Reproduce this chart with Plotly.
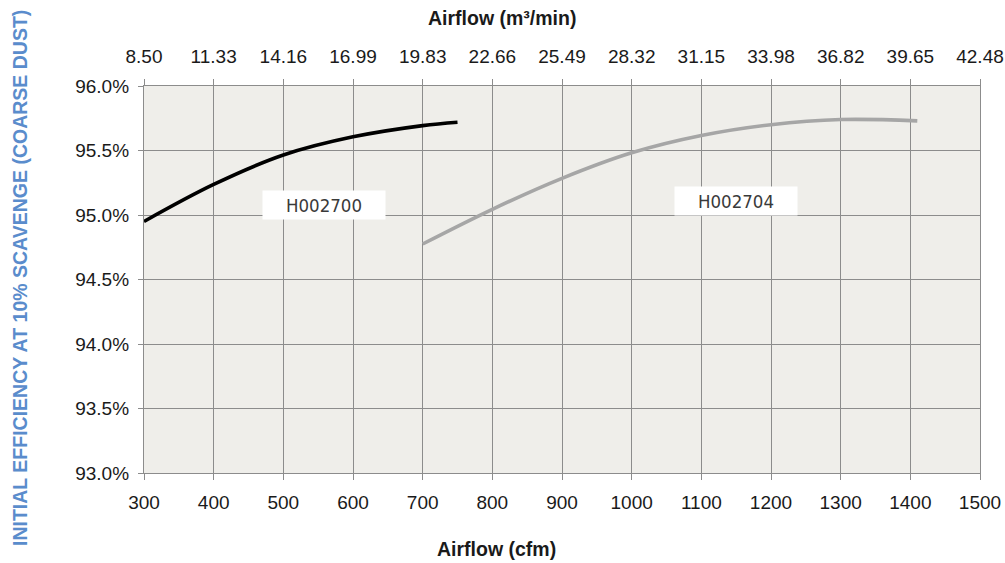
import plotly.graph_objects as go

# Data
cfm_ticks = [300, 400, 500, 600, 700, 800, 900, 1000, 1100, 1200, 1300, 1400, 1500]
m3_labels = ["8.50", "11.33", "14.16", "16.99", "19.83", "22.66", "25.49",
             "28.32", "31.15", "33.98", "36.82", "39.65", "42.48"]
eff_ticks = [93.0, 93.5, 94.0, 94.5, 95.0, 95.5, 96.0]

h2700_x = [300, 400, 500, 600, 700, 750]
h2700_y = [94.95, 95.237, 95.465, 95.606, 95.693, 95.719]

h2704_x = [700, 800, 900, 1000, 1100, 1200, 1300, 1410]
h2704_y = [94.775, 95.044, 95.284, 95.482, 95.616, 95.700, 95.740, 95.730]

labels = [("H002700", 559, 95.078), ("H002704", 1150, 95.112)]

W, H = 1005, 563
L, T = 144, 86
R = 1005 - 980
B = H - 473
PW, PH = W - L - R, H - T - B

fig = go.Figure()
fig.add_trace(go.Scatter(x=h2700_x, y=h2700_y, mode="lines",
                         line=dict(color="#000000", width=3.6, shape="spline"),
                         showlegend=False, hoverinfo="skip"))
fig.add_trace(go.Scatter(x=h2704_x, y=h2704_y, mode="lines",
                         line=dict(color="#a6a6a6", width=3.6, shape="spline"),
                         showlegend=False, hoverinfo="skip"))
# invisible trace for top axis
fig.add_trace(go.Scatter(x=[300, 1500], y=[93, 93], xaxis="x2", mode="lines",
                         line=dict(width=0), showlegend=False, hoverinfo="skip"))

tickfont = dict(family="Liberation Sans, Arial, sans-serif", size=19, color="#1a1a1a")
grid = "#8c8c8c"

fig.update_layout(
    width=W, height=H,
    margin=dict(l=L, r=R, t=T, b=B, autoexpand=False),
    paper_bgcolor="white",
    plot_bgcolor="#efeeea",
    xaxis=dict(range=[300, 1500], tickvals=cfm_ticks, ticktext=[str(v) for v in cfm_ticks],
               showgrid=True, gridcolor=grid, gridwidth=1.3, zeroline=False,
               showline=True, linecolor=grid, linewidth=1.3, automargin=False,
               ticks="outside", ticklen=6, tickcolor=grid, tickwidth=1.3,
               tickfont=tickfont, ticklabelstandoff=6),
    xaxis2=dict(range=[300, 1500], overlaying="x", side="top",
                tickvals=cfm_ticks, ticktext=m3_labels, automargin=False,
                showgrid=False, zeroline=False, showline=True, linecolor=grid, linewidth=1.3,
                ticks="outside", ticklen=6, tickcolor=grid, tickwidth=1.3,
                tickfont=tickfont, ticklabelstandoff=8),
    yaxis=dict(range=[93, 96], tickvals=eff_ticks, automargin=False,
               ticktext=[f"{v:.1f}%" for v in eff_ticks],
               showgrid=True, gridcolor=grid, gridwidth=1.3, zeroline=False,
               showline=True, linecolor=grid, linewidth=1.3, mirror=True,
               ticks="outside", ticklen=5, tickcolor=grid, tickwidth=1.3,
               tickfont=tickfont, ticklabelstandoff=5),
)

ann = []
for text, x, y in labels:
    ann.append(dict(x=x, y=y, xref="x", yref="y", text=text, showarrow=False,
                    bgcolor="white", width=120, height=26,
                    font=dict(family="Liberation Sans Narrow, DejaVu Sans Condensed, sans-serif",
                              size=18.5, color="#3a3a3a")))

titlefont = dict(family="Liberation Sans, Arial, sans-serif", size=19.5, color="#1a1a1a")
ann.append(dict(x=(496 - 144) / PW, y=-(549 - 473) / PH, xref="paper", yref="paper",
                text="<b>Airflow (cfm)</b>", showarrow=False, xanchor="center", yanchor="middle",
                font=titlefont))
ann.append(dict(x=(502 - 144) / PW, y=1 + (86 - 18) / PH, xref="paper", yref="paper",
                text="<b>Airflow (m³/min)</b>", showarrow=False, xanchor="center", yanchor="middle",
                font=titlefont))
ann.append(dict(x=(20 - 144) / PW, y=(473 - 278) / PH, xref="paper", yref="paper",
                text="<b>INITIAL EFFICIENCY AT 10% SCAVENGE (COARSE DUST)</b>", showarrow=False,
                textangle=-90, xanchor="center", yanchor="middle",
                font=dict(family="Liberation Sans, Arial, sans-serif", size=19.5, color="#5a8ccc")))
fig.update_layout(annotations=ann)

fig.write_html("out.html", config={"displayModeBar": False},
               post_script="document.body.style.margin='0';document.body.style.overflow='hidden';")
